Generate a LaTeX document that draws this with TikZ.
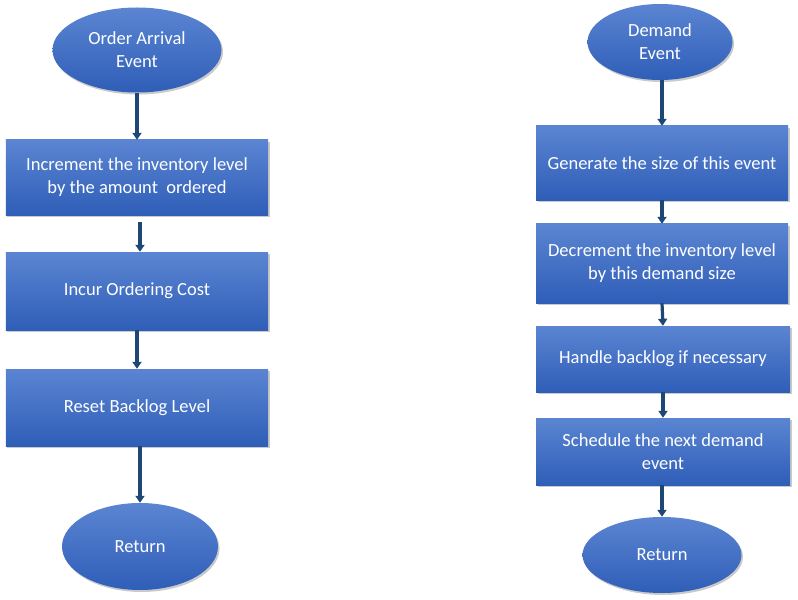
\documentclass[tikz,border=0pt]{standalone}
\usepackage{fontspec}
\setmainfont{Carlito}
\usetikzlibrary{arrows.meta,shadows,shapes.geometric}
\definecolor{topblue}{HTML}{5B85D2}
\definecolor{botblue}{HTML}{2F5EB8}
\definecolor{arrowblue}{HTML}{1D4774}
\tikzset{
  box/.style={rectangle, draw=none, top color=topblue, bottom color=botblue,
    text=white, align=center, font=\fontsize{18.6}{23}\selectfont,
    drop shadow={shadow xshift=1.5bp, shadow yshift=-2bp, opacity=0.35, fill=black!60},
    inner sep=0pt},
  oval/.style={ellipse, draw=none, top color=topblue, bottom color=botblue,
    text=white, align=center, font=\fontsize{18.6}{23}\selectfont,
    drop shadow={shadow xshift=1.5bp, shadow yshift=-2bp, opacity=0.35, fill=black!60},
    inner sep=0pt},
  flow/.style={draw=arrowblue, line width=3.2bp, -{Triangle[length=7bp,width=9bp]}}
}
\begin{document}
\begin{tikzpicture}[x=1bp,y=-1bp]
\useasboundingbox (0,0) rectangle (798,600);
% left column
\node[oval, minimum width=169bp, minimum height=85bp] (oa) at (137,50) {Order Arrival\\Event};
\node[box, minimum width=262bp, minimum height=75bp] (inc) at (137,177.5) {Increment the inventory level\\by the amount\ \ ordered};
\node[box, minimum width=262bp, minimum height=78bp] (cost) at (137,291) {Incur Ordering Cost};
\node[box, minimum width=262bp, minimum height=77bp] (reset) at (137,407.5) {Reset Backlog Level};
\node[oval, minimum width=156bp, minimum height=87bp] (ret1) at (140,546.5) {Return};
\draw[flow] (oa.south) -- (inc.north);
\draw[flow] ([xshift=3bp]inc.south) ++(0,7) -- ([xshift=3bp]cost.north);
\draw[flow] (cost.south) -- (reset.north);
\draw[flow] (reset.south -| ret1.north) -- (ret1.north);
% right column
\node[oval, minimum width=145bp, minimum height=76bp] (de) at (660,42) {Demand\\Event};
\node[box, minimum width=252bp, minimum height=74bp] (gen) at (662,163) {Generate the size of this event};
\node[box, minimum width=252bp, minimum height=79bp] (dec) at (662,263.5) {Decrement the inventory level\\by this demand size};
\node[box, minimum width=254bp, minimum height=66bp] (hand) at (663,359) {Handle backlog if necessary};
\node[box, minimum width=254bp, minimum height=67bp] (sched) at (663,451.5) {Schedule the next demand\\event};
\node[oval, minimum width=159bp, minimum height=76bp] (ret2) at (662,555) {Return};
\draw[flow] (de.south -| gen.north) -- (gen.north);
\draw[flow] (gen.south) -- (dec.north);
\draw[flow] (dec.south) -- (hand.north);
\draw[flow] (hand.south) -- (sched.north);
\draw[flow] (sched.south -| ret2.north) -- (ret2.north);
\end{tikzpicture}
\end{document}
